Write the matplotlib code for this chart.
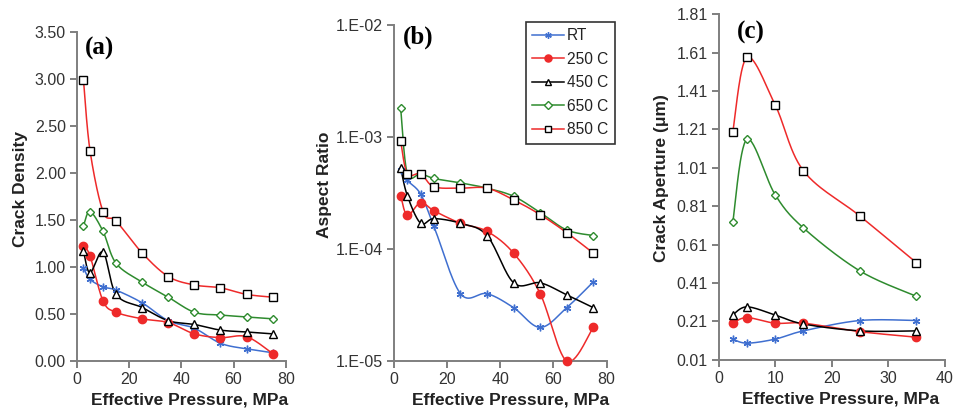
import numpy as np
import matplotlib
matplotlib.use("Agg")
import matplotlib.pyplot as plt
from matplotlib.ticker import FixedLocator, NullLocator, FuncFormatter

plt.rcParams['font.family'] = ['Liberation Sans', 'DejaVu Sans']

# ---------------- data ----------------
pressure_ab = [2.5, 5, 10, 15, 25, 35, 45, 55, 65, 75]
pressure_c = [2.5, 5, 10, 15, 25, 35]
series_names = ["RT", "250 C", "450 C", "650 C", "850 C"]

density_rt = [0.99, 0.87, 0.79, 0.755, 0.62, 0.43, 0.35, 0.19, 0.13, 0.09]
density_250 = [1.22, 1.12, 0.64, 0.52, 0.45, 0.41, 0.29, 0.25, 0.26, 0.08]
density_450 = [1.17, 0.94, 1.16, 0.71, 0.57, 0.43, 0.39, 0.33, 0.31, 0.29]
density_650 = [1.44, 1.59, 1.38, 1.04, 0.84, 0.68, 0.52, 0.49, 0.47, 0.45]
density_850 = [2.99, 2.24, 1.59, 1.49, 1.15, 0.90, 0.81, 0.78, 0.71, 0.68]

aspect_rt = [5.1e-4, 4.1e-4, 3.1e-4, 1.6e-4, 4.0e-5, 4.0e-5, 3.0e-5, 2.0e-5, 3.0e-5, 5.1e-5]
aspect_250 = [3.0e-4, 2.0e-4, 2.6e-4, 2.2e-4, 1.7e-4, 1.44e-4, 9.2e-5, 4.0e-5, 1.0e-5, 2.0e-5]
aspect_450 = [5.3e-4, 3.0e-4, 1.7e-4, 1.87e-4, 1.7e-4, 1.32e-4, 5.0e-5, 5.0e-5, 3.9e-5, 3.0e-5]
aspect_650 = [1.8e-3, 4.7e-4, 4.7e-4, 4.27e-4, 3.9e-4, 3.5e-4, 2.96e-4, 2.12e-4, 1.48e-4, 1.32e-4]
aspect_850 = [9.2e-4, 4.7e-4, 4.7e-4, 3.6e-4, 3.5e-4, 3.5e-4, 2.75e-4, 2.03e-4, 1.40e-4, 9.2e-5]

aperture_rt = [0.118, 0.097, 0.118, 0.161, 0.215, 0.215]
aperture_250 = [0.201, 0.230, 0.201, 0.201, 0.157, 0.128]
aperture_450 = [0.244, 0.286, 0.244, 0.197, 0.161, 0.161]
aperture_650 = [0.726, 1.158, 0.870, 0.697, 0.473, 0.341]
aperture_850 = [1.196, 1.585, 1.338, 0.995, 0.759, 0.516]

# ---------------- styles ----------------
BLUE = '#3F6FD0'
RED = '#EE2A2A'
GREEN = '#2E8B2E'
styles = [
    dict(color=BLUE, marker=(6, 2, 0), mfc=BLUE, mec=BLUE, ms=5.5, mew=1.0),
    dict(color=RED, marker='o', mfc=RED, mec=RED, ms=6, mew=1.0),
    dict(color='black', marker='^', mfc='white', mec='black', ms=5.5, mew=1.0),
    dict(color=GREEN, marker='D', mfc='white', mec=GREEN, ms=4.3, mew=1.0),
    dict(color=RED, marker='s', mfc='white', mec='black', ms=5.5, mew=1.0),
]


def smooth(x, y, logy=False, n=30):
    """Excel-style smoothed line (Catmull-Rom bezier) through the data points."""
    x = np.asarray(x, float)
    y = np.asarray(y, float)
    yy = np.log10(y) if logy else y
    P = np.column_stack([x, yy])
    out = []
    m = len(P)
    t = np.linspace(0, 1, n)[:, None]
    for i in range(m - 1):
        p0 = P[i - 1] if i > 0 else P[i]
        p1 = P[i]
        p2 = P[i + 1]
        p3 = P[i + 2] if i + 2 < m else P[i + 1]
        c1 = p1 + (p2 - p0) / 6.0
        c2 = p2 - (p3 - p1) / 6.0
        seg = ((1 - t) ** 3) * p1 + 3 * ((1 - t) ** 2) * t * c1 + 3 * (1 - t) * t ** 2 * c2 + t ** 3 * p2
        out.append(seg if i == 0 else seg[1:])
    out = np.vstack(out)
    sx, sy = out[:, 0], out[:, 1]
    if logy:
        sy = 10 ** sy
    return sx, sy


fig = plt.figure(figsize=(9.62, 4.17), dpi=100)
ax_a = fig.add_axes([0.080, 0.134, 0.217, 0.789])
ax_b = fig.add_axes([0.4096, 0.134, 0.221, 0.806])
ax_c = fig.add_axes([0.747, 0.137, 0.235, 0.829])

SPINE = '#7F7F7F'
TICKC = '#333333'
LABELC = '#222222'


def style_axes(ax, xlabel_x):
    for s in ['top', 'right']:
        ax.spines[s].set_visible(False)
    for s in ['left', 'bottom']:
        ax.spines[s].set_color(SPINE)
        ax.spines[s].set_linewidth(1.4)
    ax.tick_params(axis='both', which='major', direction='out', length=5, width=1.4,
                   color=SPINE, labelsize=11.5, labelcolor=TICKC, pad=3)
    ax.set_xlabel('Effective Pressure, MPa', fontsize=12.5, fontweight='bold', color=LABELC, labelpad=4)
    ax.xaxis.label.set_x(xlabel_x)


def draw(ax, x, ys, logy=False):
    lines = []
    for y, st, name in zip(ys, styles, series_names):
        sx, sy = smooth(x, y, logy=logy)
        ax.plot(sx, sy, color=st['color'], lw=1.1, zorder=2)
        ax.plot(x, y, linestyle='none', marker=st['marker'], mfc=st['mfc'], mec=st['mec'],
                ms=st['ms'], mew=st['mew'], zorder=3, clip_on=False)
        h, = ax.plot([], [], color=st['color'], lw=1.1, marker=st['marker'], mfc=st['mfc'],
                     mec=st['mec'], ms=st['ms'] * 0.85, mew=st['mew'], label=name)
        lines.append(h)
    return lines


serif = ['Liberation Serif', 'DejaVu Serif']

# (a)
draw(ax_a, pressure_ab, [density_rt, density_250, density_450, density_650, density_850])
ax_a.set_xlim(0, 80)
ax_a.set_ylim(0, 3.5)
ax_a.set_xticks([0, 20, 40, 60, 80])
ax_a.set_yticks(np.arange(0, 3.51, 0.5))
ax_a.yaxis.set_major_formatter(FuncFormatter(lambda v, p: f"{v:.2f}"))
style_axes(ax_a, 0.54)
ax_a.set_ylabel('Crack Density', fontsize=12.5, fontweight='bold', color=LABELC, labelpad=5)
ax_a.yaxis.label.set_y(0.523)
ax_a.text(0.038, 0.951, '(a)', transform=ax_a.transAxes, fontsize=18, fontweight='bold',
          family=serif, va='center', ha='left')

# (b)
handles = draw(ax_b, pressure_ab, [aspect_rt, aspect_250, aspect_450, aspect_650, aspect_850], logy=True)
ax_b.set_yscale('log')
ax_b.set_xlim(0, 80)
ax_b.set_ylim(1e-5, 1e-2)
ax_b.set_xticks([0, 20, 40, 60, 80])
ax_b.yaxis.set_major_locator(FixedLocator([1e-5, 1e-4, 1e-3, 1e-2]))
ax_b.yaxis.set_minor_locator(NullLocator())
ax_b.yaxis.set_major_formatter(FuncFormatter(lambda v, p: "1.E-%02d" % int(round(-np.log10(v)))))
style_axes(ax_b, 0.55)
ax_b.set_ylabel('Aspect Ratio', fontsize=12.5, fontweight='bold', color=LABELC, labelpad=3)
ax_b.yaxis.label.set_y(0.524)
ax_b.text(0.042, 0.964, '(b)', transform=ax_b.transAxes, fontsize=18, fontweight='bold',
          family=serif, va='center', ha='left')
leg = ax_b.legend(handles=handles, loc='upper right', bbox_to_anchor=(1.037, 1.009), fontsize=11.2,
                  frameon=True, fancybox=False, edgecolor='black', handlelength=2.05,
                  handletextpad=0.2, labelspacing=0.55, borderpad=0.4, borderaxespad=0.0)
leg.get_frame().set_linewidth(1.2)
for t in leg.get_texts():
    t.set_color(LABELC)

# (c)
draw(ax_c, pressure_c, [aperture_rt, aperture_250, aperture_450, aperture_650, aperture_850])
ax_c.set_xlim(0, 40)
ax_c.set_ylim(0.01, 1.81)
ax_c.set_xticks([0, 10, 20, 30, 40])
ax_c.set_yticks(np.arange(0.01, 1.82, 0.2))
ax_c.yaxis.set_major_formatter(FuncFormatter(lambda v, p: f"{v:.2f}"))
style_axes(ax_c, 0.54)
ax_c.set_ylabel('Crack Aperture (\u03bcm)', fontsize=12.5, fontweight='bold', color=LABELC, labelpad=5)
ax_c.yaxis.label.set_y(0.527)
ax_c.text(0.08, 0.948, '(c)', transform=ax_c.transAxes, fontsize=18, fontweight='bold',
          family=serif, va='center', ha='left')

fig.savefig('out.png', dpi=100)
